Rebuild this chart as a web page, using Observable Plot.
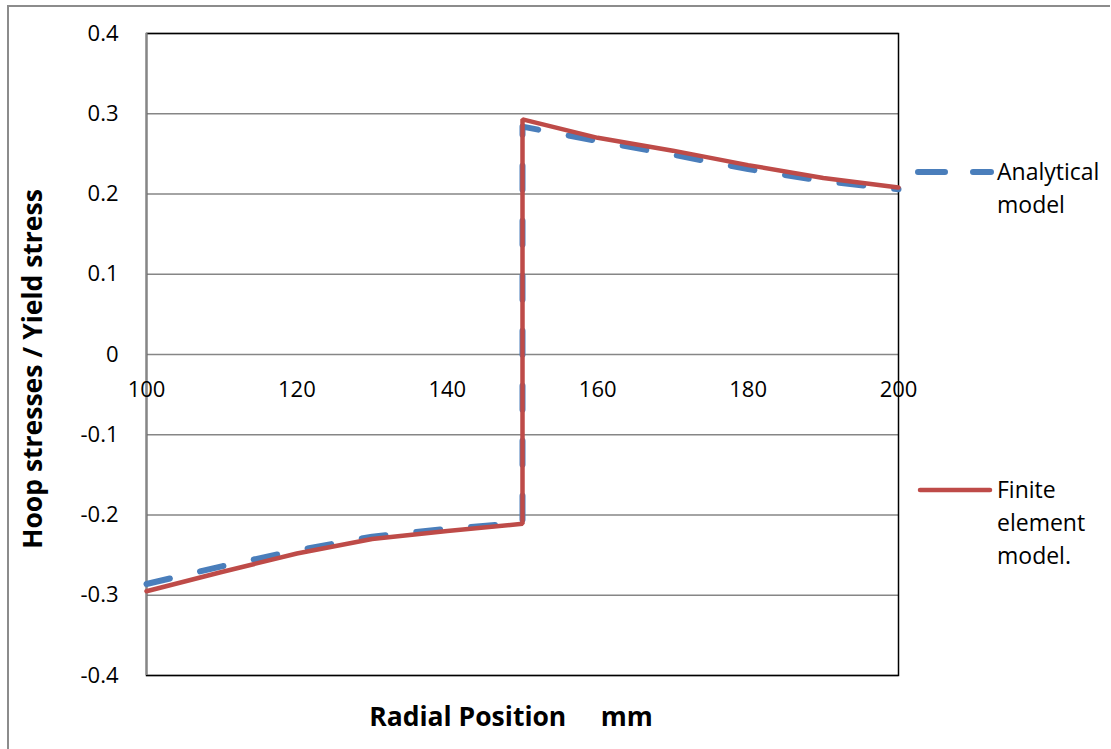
<!DOCTYPE html>
<html>
<head>
<meta charset="utf-8">
<script src="https://cdn.jsdelivr.net/npm/d3@7"></script>
<script src="https://cdn.jsdelivr.net/npm/@observablehq/plot@0.6"></script>
<style>
  html, body { margin: 0; padding: 0; background: #fff; }
  #wrap { position: relative; width: 1111px; height: 749px; overflow: hidden; font-family: "Open Sans", Lato, sans-serif; color: #000; }
  #wrap svg { position: absolute; left: 0; top: 0; }
  .border-top { position: absolute; left: 8px; top: 5px; width: 1102px; height: 0; border-top: 2px solid #8c8c8c; }
  .border-left { position: absolute; left: 7px; top: 5px; width: 0; height: 744px; border-left: 2px solid #8c8c8c; }
  .ytitle { position: absolute; left: 32px; top: 369px; transform: translate(-50%, -50%) rotate(-90deg); font-weight: bold; font-size: 26.5px; white-space: pre; }
  .xtitle { position: absolute; left: 511px; top: 716px; transform: translate(-50%, -50%); font-weight: bold; font-size: 26.5px; white-space: pre; }
  .leg { position: absolute; font-size: 23px; line-height: 33px; }
  .leg svg { position: absolute; }
</style>
</head>
<body>
<div id="wrap"></div>
<script>
// Data
const radius = [100, 110, 120, 130, 140, 150, 150, 160, 170, 180, 190, 200];
const analytical = [-0.286, -0.264, -0.244, -0.227, -0.217, -0.210, 0.284, 0.266, 0.249, 0.231, 0.216, 0.206];
const finiteElement = [-0.295, -0.271, -0.248, -0.230, -0.220, -0.211, 0.293, 0.270, 0.254, 0.236, 0.220, 0.208];
const xTicks = [100, 120, 140, 160, 180, 200];
const yTicks = [-0.4, -0.3, -0.2, -0.1, 0, 0.1, 0.2, 0.3, 0.4];
const seriesNames = ["Analytical model", "Finite element model."];

const blue = "#4a7ebb";
const red = "#be4b48";

const anaData = radius.map((r, i) => ({x: r, y: analytical[i]}));
const feData = radius.map((r, i) => ({x: r, y: finiteElement[i]}));

const fmt = d => d === 0 ? "0" : d.toFixed(1);

const chart = Plot.plot({
  width: 1111,
  height: 749,
  marginLeft: 146,
  marginRight: 213,
  marginTop: 33,
  marginBottom: 74,
  style: {fontFamily: "'Open Sans', Lato, sans-serif", fontSize: "22px", color: "#000", background: "transparent", overflow: "visible"},
  x: {domain: [100, 200], axis: null},
  y: {domain: [-0.4, 0.4], ticks: yTicks, tickFormat: fmt, tickSize: 0, tickPadding: 28, label: null},
  marks: [
    Plot.ruleY(yTicks, {stroke: "#868686", strokeWidth: 1.3}),
    Plot.frame({stroke: "#000", strokeWidth: 1.5}),
    Plot.ruleX([100], {stroke: "#868686", strokeWidth: 2}),
    Plot.text(xTicks, {x: d => d, y: () => 0, text: d => String(d), dy: 35, fontSize: 22, fill: "#000"}),
    Plot.line(anaData, {x: "x", y: "y", stroke: blue, strokeWidth: 6, strokeDasharray: "24,31", strokeLinecap: "round", strokeLinejoin: "round"}),
    Plot.line(feData, {x: "x", y: "y", stroke: red, strokeWidth: 4.5, strokeLinejoin: "miter"})
  ]
});

const wrap = document.getElementById("wrap");
wrap.appendChild(chart);

function addDiv(cls, html, styles) {
  const d = document.createElement("div");
  d.className = cls;
  d.innerHTML = html;
  if (styles) Object.assign(d.style, styles);
  wrap.appendChild(d);
  return d;
}
addDiv("border-top", "");
addDiv("border-left", "");
addDiv("ytitle", "Hoop stresses / Yield stress");
addDiv("xtitle", "Radial Position     mm");

// Legend
addDiv("leg", `<svg width="80" height="12" style="left:-82px;top:11px"><line x1="3" y1="6" x2="76" y2="6" stroke="${blue}" stroke-width="6" stroke-linecap="round" stroke-dasharray="27,28"/></svg>Analytical<br>model`, {left: "997px", top: "155px"});
addDiv("leg", `<svg width="80" height="12" style="left:-80px;top:11px"><line x1="3" y1="6" x2="73" y2="6" stroke="${red}" stroke-width="4.5" stroke-linecap="round"/></svg>Finite<br>element<br>model.`, {left: "997px", top: "473px"});
</script>
</body>
</html>
